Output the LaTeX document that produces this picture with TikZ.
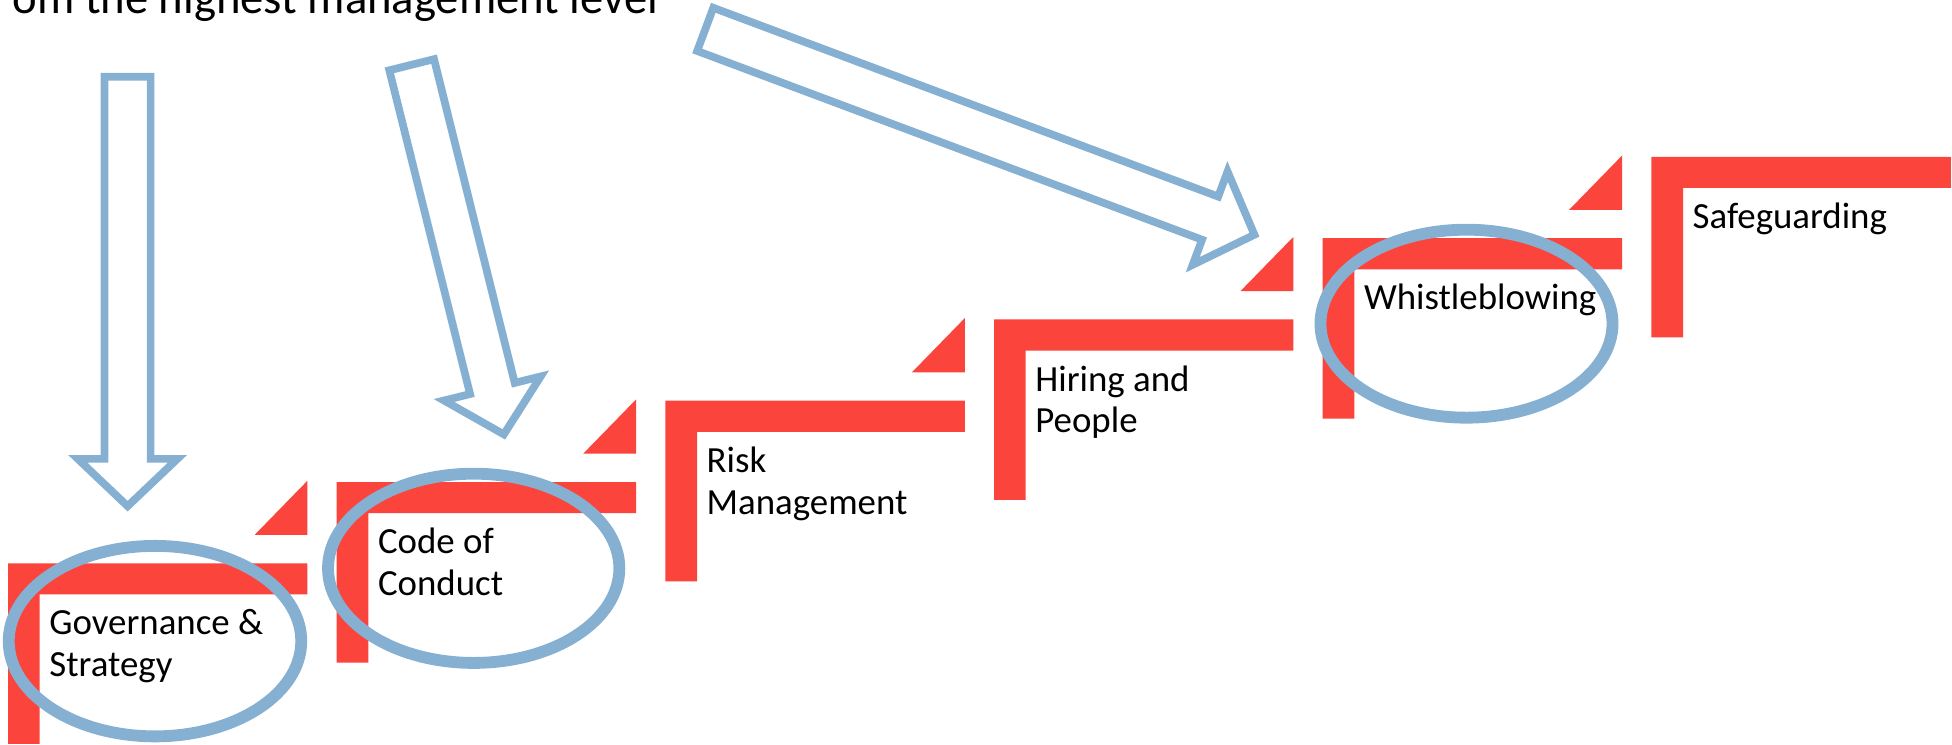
\documentclass[tikz,border=0pt]{standalone}
\usepackage{fontspec}
\setmainfont{Carlito}
\definecolor{stepred}{RGB}{250,68,60}
\definecolor{ringblue}{RGB}{134,176,210}
\begin{document}
\begin{tikzpicture}[x=1pt,y=-1pt,
  redshape/.style={fill=stepred,draw=none},
  ring/.style={draw=ringblue,line width=9.5pt},
  blockarrow/.style={draw=ringblue,line width=6.2pt,fill=white,line join=miter},
  lbl/.style={anchor=base west,inner sep=0pt,align=left,font=\fontsize{29.6}{33.5}\selectfont},
  titletext/.style={anchor=base east,inner sep=0pt,font=\fontsize{37.5}{40}\selectfont}]
\useasboundingbox (0,0) rectangle (1568,598);
% steps
\foreach \i in {0,...,5}{
  \pgfmathsetmacro{\xo}{6.5+264*\i}
  \pgfmathsetmacro{\yo}{452.5-65.3*\i}
  \fill[redshape] (\xo,\yo) -- ++(240.5,0) -- ++(0,25) -- ++(-215.1,0) -- ++(0,120) -- ++(-25.4,0) -- cycle;
}
\foreach \i in {0,...,4}{
  \pgfmathsetmacro{\xo}{6.5+264*\i}
  \pgfmathsetmacro{\yo}{452.5-65.3*\i}
  \fill[redshape] (\xo+240.5,\yo-66.4) -- (\xo+240.5,\yo-22.8) -- (\xo+198,\yo-22.8) -- cycle;
}
% labels (base anchor = baseline of the last line)
\node[lbl] (gov) at (39.5,543.5) {Governance \&\\Strategy};
\node[lbl] (code) at (303.5,478.2) {Code of\\Conduct};
\node[lbl] (risk) at (567.5,412.9) {Risk\\Management};
\node[lbl] (hire) at (831.5,347.6) {Hiring and\\People};
\node[lbl] (whistle) at (1095.5,248.8) {Whistleblowing};
\node[lbl] (safe) at (1359.5,183.5) {Safeguarding};
\node[titletext] (title) at (529,10.5) {om the highest management level};
% rings
\draw[ring] (124.5,515) ellipse [x radius=117.5,y radius=76.5];
\draw[ring] (380.5,456.5) ellipse [x radius=117,y radius=76];
\draw[ring] (1178,260) ellipse [x radius=117.3,y radius=75.5];
% block arrows
\begin{scope}[shift={(102.5,61.6)},rotate=-90]
  \draw[blockarrow] (0,-18.5) -- (307,-18.5) -- (307,-40) -- (345,0) -- (307,40) -- (307,18.5) -- (0,18.5) -- cycle;
\end{scope}
\begin{scope}[shift={(330.7,52)},rotate=-76]
  \draw[blockarrow] (0,-18.5) -- (268,-18.5) -- (268,-40) -- (306,0) -- (268,40) -- (268,18.5) -- (0,18.5) -- cycle;
\end{scope}
\begin{scope}[shift={(566.5,23.6)},rotate=-20.5]
  \draw[blockarrow] (0,-18.5) -- (433,-18.5) -- (433,-40) -- (471,0) -- (433,40) -- (433,18.5) -- (0,18.5) -- cycle;
\end{scope}
\end{tikzpicture}
\end{document}
